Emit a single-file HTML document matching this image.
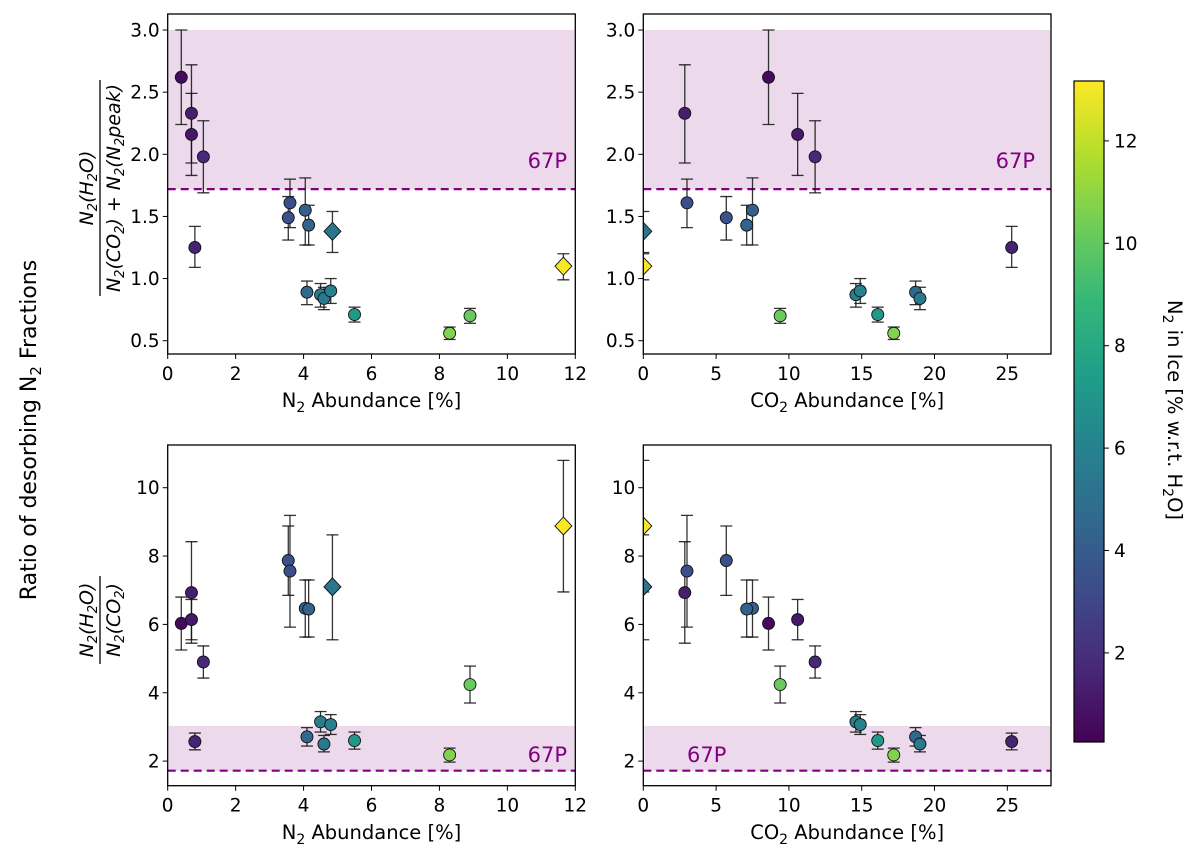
<!DOCTYPE html>
<html><head><meta charset="utf-8"><style>
html,body{margin:0;padding:0;background:#fff;}
svg{display:block;font-family:"DejaVu Sans","Liberation Sans",sans-serif;}
</style></head><body>
<svg id="fig" width="1200" height="860" viewBox="0 0 1200 860">
<defs id="defs"></defs>
<text x="0" y="0" transform="translate(36,430) rotate(-90)" text-anchor="middle" font-size="22" fill="#000">Ratio of desorbing N<tspan font-size="15" dy="5">2</tspan><tspan dy="-5"> Fractions</tspan></text>
<g transform="translate(100,188) rotate(-90)">
<text x="0" y="-7" text-anchor="middle" font-size="19" font-style="italic">N<tspan font-size="13" dy="4">2</tspan><tspan dy="-4">(H</tspan><tspan font-size="13" dy="4">2</tspan><tspan dy="-4">O)</tspan></text>
<line x1="-108" x2="108" y1="0" y2="0" stroke="#000" stroke-width="1.3"/>
<text x="0" y="20" text-anchor="middle" font-size="19" font-style="italic">N<tspan font-size="13" dy="4">2</tspan><tspan dy="-4">(CO</tspan><tspan font-size="13" dy="4">2</tspan><tspan dy="-4">) + N</tspan><tspan font-size="13" dy="4">2</tspan><tspan dy="-4">(N</tspan><tspan font-size="13" dy="4">2</tspan><tspan dy="-4">peak)</tspan></text>
</g>
<g transform="translate(100,620) rotate(-90)">
<text x="0" y="-7" text-anchor="middle" font-size="19" font-style="italic">N<tspan font-size="13" dy="4">2</tspan><tspan dy="-4">(H</tspan><tspan font-size="13" dy="4">2</tspan><tspan dy="-4">O)</tspan></text>
<line x1="-44" x2="44" y1="0" y2="0" stroke="#000" stroke-width="1.3"/>
<text x="0" y="20" text-anchor="middle" font-size="19" font-style="italic">N<tspan font-size="13" dy="4">2</tspan><tspan dy="-4">(CO</tspan><tspan font-size="13" dy="4">2</tspan><tspan dy="-4">)</tspan></text>
</g>
<g id="panels"></g>
<g id="cbar"></g>
</svg>
<script>
// data: one entry per sample
const n2Abund = [0.4,0.7,0.7,1.05,0.8,3.55,3.6,4.05,4.15,4.85,4.1,4.5,4.6,4.8,5.5,8.3,8.9,11.65];
const co2Abund = [8.6,2.85,10.6,11.8,25.3,5.7,3.0,7.5,7.1,0,18.7,14.6,19.0,14.9,16.1,17.2,9.4,0];
const n2Ice = [0.6,1.3,1.1,1.7,1.5,3.4,3.3,4.2,4.3,5.3,4.6,5.7,5.5,6.0,7.2,10.7,10.2,13.1];
const isDiamond = [0,0,0,0,0,0,0,0,0,1,0,0,0,0,0,0,0,1];
const ratioPeak = [2.62,2.33,2.16,1.98,1.25,1.49,1.61,1.55,1.43,1.38,0.89,0.87,0.84,0.90,0.71,0.56,0.70,1.10];
const ratioPeakLo = [2.24,1.93,1.83,1.69,1.09,1.31,1.41,1.27,1.27,1.21,0.79,0.77,0.75,0.80,0.65,0.51,0.64,0.99];
const ratioPeakHi = [3.00,2.72,2.49,2.27,1.42,1.66,1.80,1.81,1.59,1.54,0.98,0.96,0.93,1.00,0.77,0.61,0.76,1.20];
const ratioCO2 = [6.03,6.93,6.14,4.90,2.57,7.87,7.56,6.47,6.45,7.10,2.71,3.15,2.50,3.07,2.60,2.18,4.24,8.88];
const ratioCO2Lo = [5.25,5.45,5.55,4.43,2.33,6.85,5.92,5.63,5.63,5.55,2.44,2.85,2.27,2.78,2.35,1.97,3.70,6.95];
const ratioCO2Hi = [6.80,8.42,6.73,5.37,2.82,8.88,9.19,7.30,7.30,8.62,2.98,3.45,2.75,3.36,2.85,2.38,4.78,10.80];
const cmin = 0.26, cmax = 13.17;
const cbarTicks = [2,4,6,8,10,12];
const topYTicks = ["0.5","1.0","1.5","2.0","2.5","3.0"];
const botYTicks = ["2","4","6","8","10"];
const n2XTicks = ["0","2","4","6","8","10","12"];
const co2XTicks = ["0","5","10","15","20","25"];
const band67P = {lineVal:1.72, topUpper:3.0, botUpper:3.03};

const NS="http://www.w3.org/2000/svg";
function mk(tag, attrs, parent){const e=document.createElementNS(NS,tag);for(const k in attrs)e.setAttribute(k,attrs[k]);if(parent)parent.appendChild(e);return e;}
const VIR=[[68,1,84],[72,40,120],[62,74,137],[49,104,142],[38,130,142],[31,158,137],[53,183,121],[109,205,89],[180,222,44],[253,231,37]];
function viridis(t){t=Math.max(0,Math.min(1,t));const p=t*(VIR.length-1);const i=Math.min(VIR.length-2,Math.floor(p));const f=p-i;const c=VIR[i].map((v,k)=>Math.round(v+(VIR[i+1][k]-v)*f));return `rgb(${c[0]},${c[1]},${c[2]})`;}
function col(v){return viridis((v-cmin)/(cmax-cmin));}
const TF=18.5, LF=19.5;
const panels=[
 {name:"top-left",x0:167.7,x1:575.3,y0:14,y1:354,xmin:0,xmax:12,ymin:0.393,ymax:3.129,xs:n2Abund,ys:ratioPeak,lo:ratioPeakLo,hi:ratioPeakHi,xt:n2XTicks,yt:topYTicks,upper:band67P.topUpper,lab:"N2",lbl67:{anchor:"end",x:567,y:168},xlabY:407},
 {name:"top-right",x0:643.3,x1:1051,y0:14,y1:354,xmin:0,xmax:28,ymin:0.393,ymax:3.129,xs:co2Abund,ys:ratioPeak,lo:ratioPeakLo,hi:ratioPeakHi,xt:co2XTicks,yt:topYTicks,upper:band67P.topUpper,lab:"CO2",lbl67:{anchor:"end",x:1035,y:168},xlabY:407},
 {name:"bottom-left",x0:167.7,x1:575.3,y0:445,y1:785.7,xmin:0,xmax:12,ymin:1.28,ymax:11.25,xs:n2Abund,ys:ratioCO2,lo:ratioCO2Lo,hi:ratioCO2Hi,xt:n2XTicks,yt:botYTicks,upper:band67P.botUpper,lab:"N2",lbl67:{anchor:"end",x:567,y:762},xlabY:839},
 {name:"bottom-right",x0:643.3,x1:1051,y0:445,y1:785.7,xmin:0,xmax:28,ymin:1.28,ymax:11.25,xs:co2Abund,ys:ratioCO2,lo:ratioCO2Lo,hi:ratioCO2Hi,xt:co2XTicks,yt:botYTicks,upper:band67P.botUpper,lab:"CO2",lbl67:{anchor:"start",x:687,y:762},xlabY:839}
];
const root=document.getElementById('panels');
const defs=document.getElementById('defs');
panels.forEach((p,pi)=>{
  const X=v=>p.x0+(v-p.xmin)/(p.xmax-p.xmin)*(p.x1-p.x0);
  const Y=v=>p.y1-(v-p.ymin)/(p.ymax-p.ymin)*(p.y1-p.y0);
  const g=mk('g',{},root);
  
  
  const cp=mk('clipPath',{id:'clip'+pi},defs);
  mk('rect',{x:p.x0,y:p.y0,width:p.x1-p.x0,height:p.y1-p.y0},cp);
  const band=mk('rect',{x:p.x0+1,y:Y(p.upper),width:p.x1-p.x0-2,height:Y(band67P.lineVal)-Y(p.upper),fill:'#800080','fill-opacity':0.15},g);
  
  
  const dl=mk('line',{x1:p.x0,x2:p.x1,y1:Y(band67P.lineVal),y2:Y(band67P.lineVal),stroke:'#800080','stroke-width':2.2,'stroke-dasharray':'8,5'},g);
  
  
  const t=mk('text',{x:p.lbl67.x,y:p.lbl67.y,'text-anchor':p.lbl67.anchor,'font-size':21,fill:'#800080'},g);
  t.textContent='67P';
  
  
  const dg=mk('g',{'clip-path':`url(#clip${pi})`},g);
  p.xs.forEach((xv,i)=>{
    const cx=X(xv), yl=Y(p.lo[i]), yh=Y(p.hi[i]);
    const eb=mk('g',{stroke:'#111','stroke-width':1.3,'stroke-opacity':0.85},dg);
    
    
    mk('line',{x1:cx,x2:cx,y1:yl,y2:yh},eb);
    mk('line',{x1:cx-6,x2:cx+6,y1:yl,y2:yl},eb);
    mk('line',{x1:cx-6,x2:cx+6,y1:yh,y2:yh},eb);
  });
  p.xs.forEach((xv,i)=>{
    const cx=X(xv), cy=Y(p.ys[i]);
    let m;
    if(isDiamond[i]) m=mk('polygon',{points:`${cx},${cy-9} ${cx+8.5},${cy} ${cx},${cy+9} ${cx-8.5},${cy}`,fill:col(n2Ice[i]),stroke:'#111','stroke-width':0.9},dg);
    else m=mk('circle',{cx:cx,cy:cy,r:6,fill:col(n2Ice[i]),stroke:'#111','stroke-width':0.9},dg);
    
    
  });
  const fr=mk('rect',{x:p.x0,y:p.y0,width:p.x1-p.x0,height:p.y1-p.y0,fill:'none',stroke:'#000','stroke-width':1.3},g);
  
  
  p.xt.forEach(s=>{
    const x=X(parseFloat(s));
    mk('line',{x1:x,x2:x,y1:p.y1,y2:p.y1+5,stroke:'#000','stroke-width':1},g);
    const tt=mk('text',{x:x,y:p.y1+26,'text-anchor':'middle','font-size':TF},g);
    tt.textContent=s;
    
    
  });
  p.yt.forEach(s=>{
    const y=Y(parseFloat(s));
    mk('line',{x1:p.x0-5,x2:p.x0,y1:y,y2:y,stroke:'#000','stroke-width':1},g);
    const tt=mk('text',{x:p.x0-8,y:y+6.5,'text-anchor':'end','font-size':TF},g);
    tt.textContent=s;
    
    
  });
  const xl=mk('text',{x:(p.x0+p.x1)/2,y:p.xlabY,'text-anchor':'middle','font-size':LF},g);
  xl.innerHTML = p.lab==='N2' ? 'N<tspan font-size="14" dy="5">2</tspan><tspan dy="-5"> Abundance [%]</tspan>' : 'CO<tspan font-size="14" dy="5">2</tspan><tspan dy="-5"> Abundance [%]</tspan>';
  
  
});
// colorbar
const cb=document.getElementById('cbar');


const cbx=1074, cbw=30, cbt=81, cbb=742;
const grad=mk('linearGradient',{id:'vir',x1:0,y1:1,x2:0,y2:0},defs);
VIR.forEach((c,i)=>mk('stop',{offset:i/(VIR.length-1),'stop-color':`rgb(${c[0]},${c[1]},${c[2]})`},grad));
mk('rect',{x:cbx,y:cbt,width:cbw,height:cbb-cbt,fill:'url(#vir)',stroke:'#000','stroke-width':1.2},cb);
const CY=v=>cbb-(v-cmin)/(cmax-cmin)*(cbb-cbt);
cbarTicks.forEach(v=>{
  const y=CY(v);
  mk('line',{x1:cbx+cbw,x2:cbx+cbw+5,y1:y,y2:y,stroke:'#000'},cb);
  const tt=mk('text',{x:cbx+cbw+10,y:y+6.5,'font-size':TF},cb);
  tt.textContent=String(v);
  
  
});
const ct=mk('text',{x:0,y:0,transform:'translate(1168,410) rotate(90)','text-anchor':'middle','font-size':LF},cb);
ct.innerHTML='N<tspan font-size="14" dy="5">2</tspan><tspan dy="-5"> in Ice [% w.r.t. H</tspan><tspan font-size="14" dy="5">2</tspan><tspan dy="-5">O]</tspan>';


</script>
</body></html>
